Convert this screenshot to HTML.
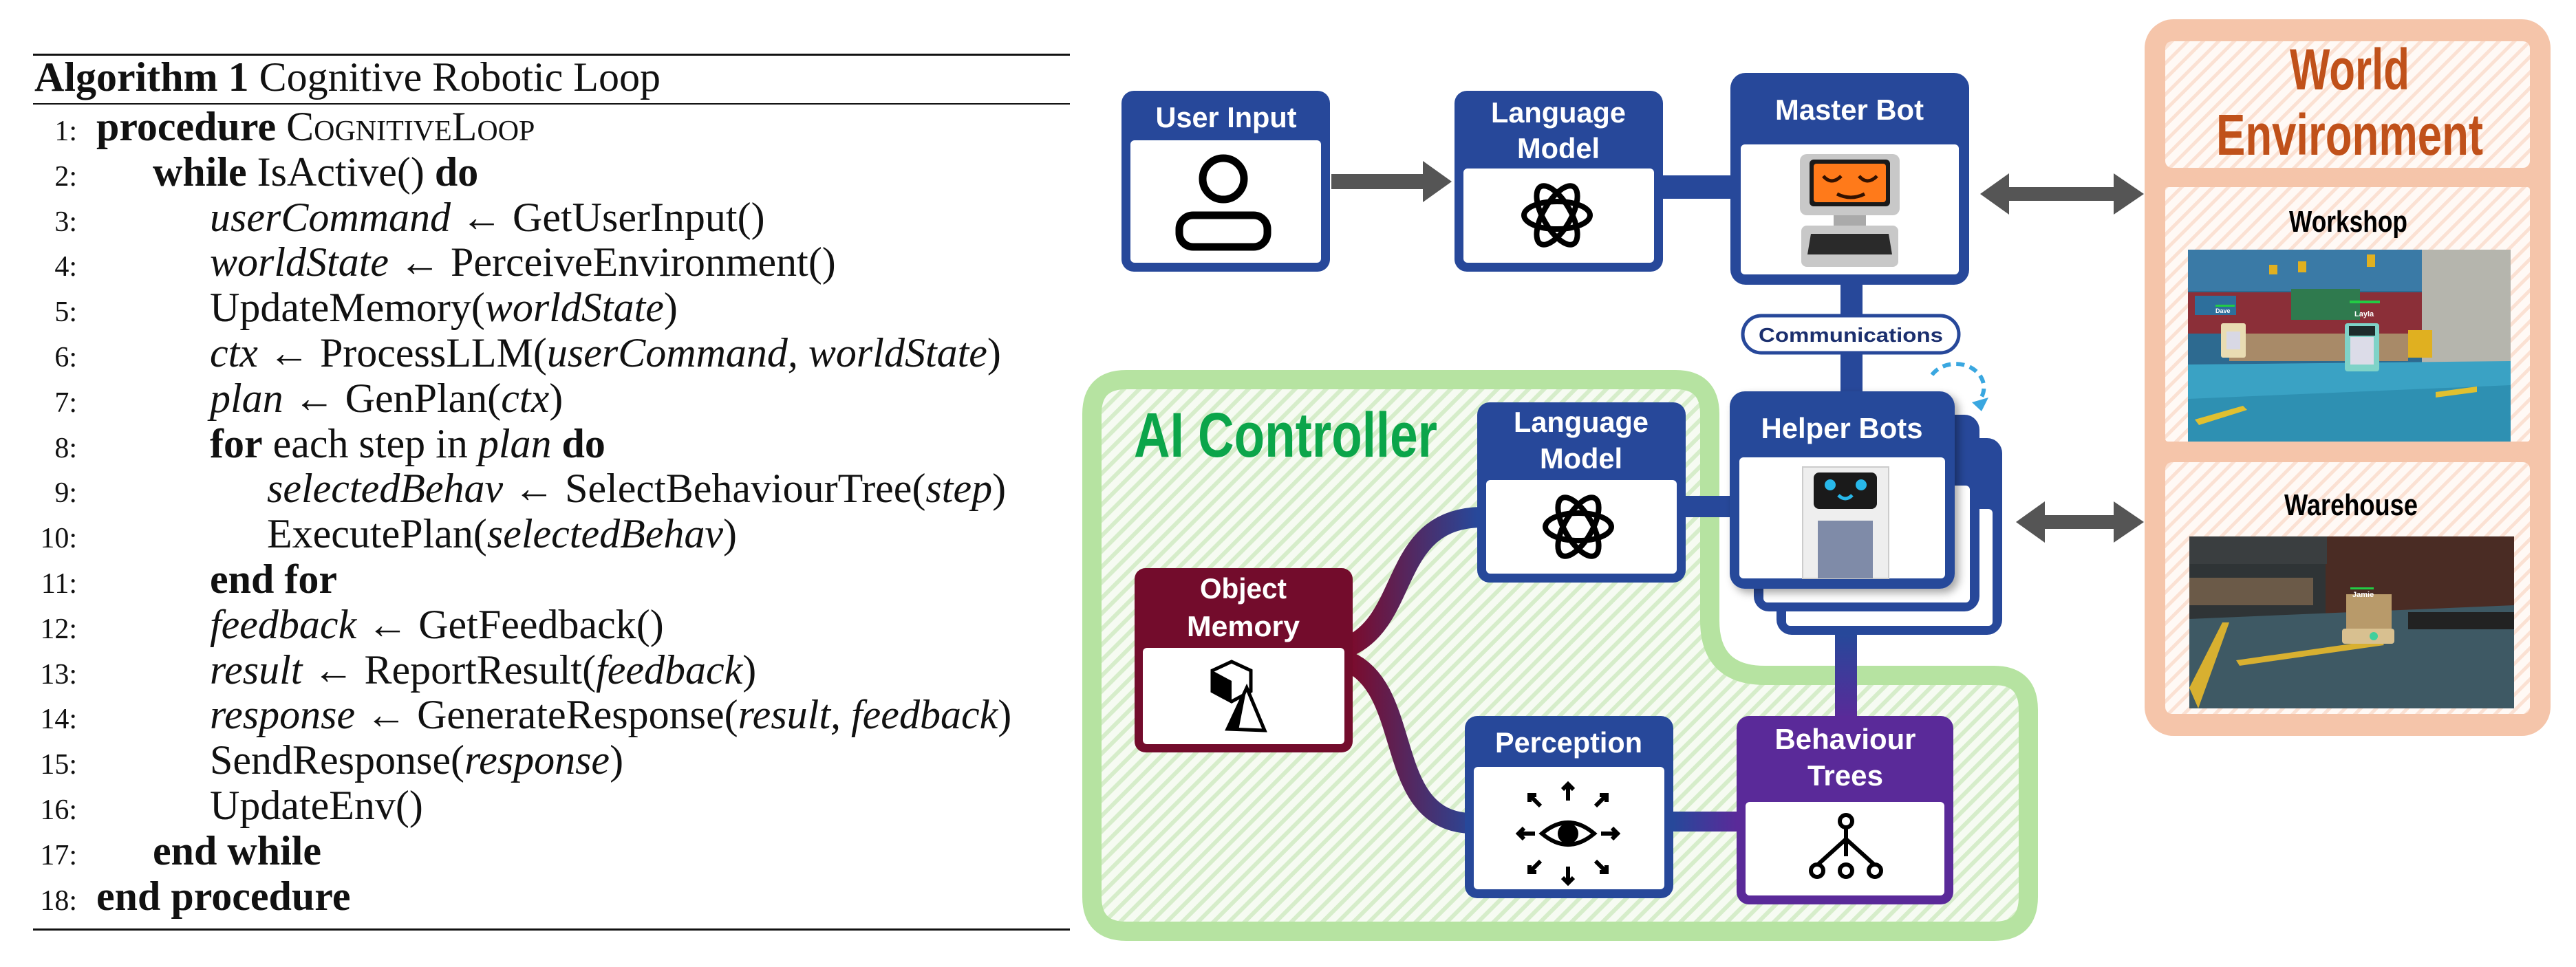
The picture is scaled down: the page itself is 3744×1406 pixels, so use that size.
<!DOCTYPE html>
<html><head><meta charset="utf-8"><style>
html,body{margin:0;padding:0;background:#fff;width:3744px;height:1406px;overflow:hidden}
svg{display:block}
.alg{font-family:"Liberation Serif",serif;font-size:60px;fill:#111}
.num{font-family:"Liberation Serif",serif;font-size:42px;fill:#111}
.b{font-weight:bold}
.i{font-style:italic}
.sc{font-variant:small-caps}
.hd{font-family:"Liberation Sans",sans-serif;font-weight:bold;fill:#fff;font-size:42px}
</style></head><body>
<svg width="3744" height="1406" viewBox="0 0 3744 1406" xmlns="http://www.w3.org/2000/svg">
<defs>
<pattern id="hg" width="16" height="16" patternUnits="userSpaceOnUse" patternTransform="rotate(45)">
<rect width="16" height="16" fill="#f6fbf2"/><rect width="6" height="16" fill="#d6edca"/></pattern>
<pattern id="ho" width="16" height="16" patternUnits="userSpaceOnUse" patternTransform="rotate(45)">
<rect width="16" height="16" fill="#fff9f5"/><rect width="5" height="16" fill="#fbe1d3"/></pattern>
<linearGradient id="g1" gradientUnits="userSpaceOnUse" x1="1966" y1="0" x2="2147" y2="0"><stop offset="0" stop-color="#7a0c2e"/><stop offset="1" stop-color="#27489a"/></linearGradient>
<linearGradient id="g2" gradientUnits="userSpaceOnUse" x1="0" y1="923" x2="0" y2="1045"><stop offset="0" stop-color="#27489a"/><stop offset="1" stop-color="#5a2a99"/></linearGradient>
<linearGradient id="g3" gradientUnits="userSpaceOnUse" x1="2432" y1="0" x2="2524" y2="0"><stop offset="0" stop-color="#27489a"/><stop offset="1" stop-color="#5a2a99"/></linearGradient>
<filter id="sh" x="-10%" y="-10%" width="130%" height="130%"><feDropShadow dx="6" dy="6" stdDeviation="6" flood-opacity="0.35"/></filter>
</defs>

<!-- Algorithm -->
<rect x="48" y="78" width="1507" height="3" fill="#111"/>
<rect x="48" y="150" width="1507" height="2" fill="#111"/>
<rect x="48" y="1350" width="1507" height="3" fill="#111"/>
<text class="alg" x="50" y="132"><tspan class="b">Algorithm 1</tspan> Cognitive Robotic Loop</text>
<g class="num" text-anchor="end">
<text x="112" y="204">1:</text><text x="112" y="270">2:</text><text x="112" y="336">3:</text><text x="112" y="401">4:</text><text x="112" y="467">5:</text><text x="112" y="533">6:</text><text x="112" y="599">7:</text><text x="112" y="665">8:</text><text x="112" y="730">9:</text><text x="112" y="796">10:</text><text x="112" y="862">11:</text><text x="112" y="928">12:</text><text x="112" y="994">13:</text><text x="112" y="1059">14:</text><text x="112" y="1125">15:</text><text x="112" y="1191">16:</text><text x="112" y="1257">17:</text><text x="112" y="1323">18:</text>
</g>
<g class="alg">
<text x="140" y="204"><tspan class="b">procedure</tspan> <tspan class="sc">CognitiveLoop</tspan></text>
<text x="222" y="270"><tspan class="b">while</tspan> IsActive() <tspan class="b">do</tspan></text>
<text x="305" y="336"><tspan class="i">userCommand</tspan> ← GetUserInput()</text>
<text x="305" y="401"><tspan class="i">worldState</tspan> ← PerceiveEnvironment()</text>
<text x="305" y="467">UpdateMemory(<tspan class="i">worldState</tspan>)</text>
<text x="305" y="533"><tspan class="i">ctx</tspan> ← ProcessLLM(<tspan class="i">userCommand, worldState</tspan>)</text>
<text x="305" y="599"><tspan class="i">plan</tspan> ← GenPlan(<tspan class="i">ctx</tspan>)</text>
<text x="305" y="665"><tspan class="b">for</tspan> each step in <tspan class="i">plan</tspan> <tspan class="b">do</tspan></text>
<text x="388" y="730"><tspan class="i">selectedBehav</tspan> ← SelectBehaviourTree(<tspan class="i">step</tspan>)</text>
<text x="388" y="796">ExecutePlan(<tspan class="i">selectedBehav</tspan>)</text>
<text x="305" y="862" class="b">end for</text>
<text x="305" y="928"><tspan class="i">feedback</tspan> ← GetFeedback()</text>
<text x="305" y="994"><tspan class="i">result</tspan> ← ReportResult(<tspan class="i">feedback</tspan>)</text>
<text x="305" y="1059"><tspan class="i">response</tspan> ← GenerateResponse(<tspan class="i">result, feedback</tspan>)</text>
<text x="305" y="1125">SendResponse(<tspan class="i">response</tspan>)</text>
<text x="305" y="1191">UpdateEnv()</text>
<text x="222" y="1257" class="b">end while</text>
<text x="140" y="1323" class="b">end procedure</text>
</g>

<!-- AI Controller region -->
<path d="M1637,552 L2435,552 Q2485,552 2485,602 L2485,902 Q2485,982 2565,982 L2898,982 Q2948,982 2948,1032 L2948,1304 Q2948,1354 2898,1354 L1637,1354 Q1587,1354 1587,1304 L1587,602 Q1587,552 1637,552 Z" fill="url(#hg)" stroke="#b6e3a1" stroke-width="28"/>
<text x="1648" y="664" font-family="Liberation Sans,sans-serif" font-weight="bold" font-size="92" fill="#0ba54a" textLength="441" lengthAdjust="spacingAndGlyphs">AI Controller</text>

<!-- World Environment -->
<rect x="3117" y="28" width="590" height="1042" rx="42" fill="#f5c5aa"/>
<rect x="3147" y="60" width="530" height="184" rx="10" fill="url(#ho)"/>
<rect x="3147" y="272" width="530" height="370" rx="4" fill="url(#ho)"/>
<rect x="3147" y="672" width="530" height="366" rx="10" fill="url(#ho)"/>
<g font-family="Liberation Sans,sans-serif" font-weight="bold" text-anchor="middle">
<text x="3415" y="130" font-size="84" fill="#c0511a" textLength="174" lengthAdjust="spacingAndGlyphs">World</text>
<text x="3415" y="225" font-size="84" fill="#c0511a" textLength="388" lengthAdjust="spacingAndGlyphs">Environment</text>
<text x="3413" y="337" font-size="44" fill="#000" textLength="172" lengthAdjust="spacingAndGlyphs">Workshop</text>
<text x="3417" y="749" font-size="44" fill="#000" textLength="194" lengthAdjust="spacingAndGlyphs">Warehouse</text>
</g>
<!-- workshop image -->
<g>
<rect x="3180" y="363" width="469" height="279" fill="#2d6a90"/>
<rect x="3180" y="363" width="469" height="60" fill="#3a7aa6"/>
<rect x="3520" y="363" width="129" height="200" fill="#b5b5ad"/>
<rect x="3180" y="425" width="340" height="60" fill="#8b2f38"/>
<rect x="3190" y="430" width="60" height="28" fill="#2d6f9c"/>
<rect x="3330" y="420" width="100" height="45" fill="#2f7a4e"/>
<rect x="3240" y="485" width="260" height="40" fill="#a88a68"/>
<rect x="3440" y="370" width="12" height="18" fill="#e0b020"/><rect x="3340" y="380" width="12" height="16" fill="#e0b020"/><rect x="3298" y="385" width="12" height="14" fill="#e0b020"/>
<polygon points="3180,530 3649,525 3649,642 3180,642" fill="#3aa2c4"/>
<polygon points="3180,580 3649,560 3649,642 3180,642" fill="#2e90b2"/>
<polygon points="3190,610 3260,590 3266,596 3196,618" fill="#e0c030"/>
<polygon points="3540,570 3600,562 3600,570 3540,578" fill="#e0c030"/>
<rect x="3500" y="480" width="35" height="40" fill="#e0b020"/>
<rect x="3228" y="470" width="36" height="50" rx="3" fill="#e9dcb2"/>
<rect x="3236" y="482" width="20" height="26" fill="#d8d8e4"/>
<rect x="3408" y="470" width="50" height="70" rx="4" fill="#7fd3c8"/>
<rect x="3416" y="490" width="34" height="40" fill="#dcdce8"/>
<rect x="3414" y="474" width="38" height="14" fill="#1e2b2b"/>
<rect x="3415" y="437" width="44" height="4" fill="#22cc44"/>
<text x="3422" y="460" font-family="Liberation Sans,sans-serif" font-size="11" font-weight="bold" fill="#fff">Layla</text>
<rect x="3220" y="443" width="28" height="3" fill="#22cc44"/>
<text x="3220" y="455" font-family="Liberation Sans,sans-serif" font-size="9" font-weight="bold" fill="#fff">Dave</text>
</g>
<!-- warehouse image -->
<g>
<rect x="3182" y="780" width="472" height="250" fill="#2f3436"/>
<rect x="3380" y="780" width="274" height="120" fill="#4a2c24"/>
<rect x="3182" y="780" width="200" height="40" fill="#3a3e40"/>
<rect x="3182" y="840" width="180" height="40" fill="#6b5a48"/>
<polygon points="3182,900 3654,880 3654,1030 3182,1030" fill="#3e5964"/>
<polygon points="3182,1000 3230,905 3240,905 3195,1030" fill="#d8b030"/>
<polygon points="3250,960 3460,930 3465,938 3255,968" fill="#d8b030"/>
<rect x="3500" y="890" width="154" height="25" fill="#222"/>
<rect x="3410" y="864" width="66" height="52" fill="#b89a6a"/>
<rect x="3404" y="914" width="76" height="22" rx="4" fill="#d8c090"/>
<circle cx="3450" cy="925" r="6" fill="#3fcf9c"/>
<rect x="3416" y="854" width="34" height="3" fill="#22cc44"/>
<text x="3419" y="868" font-family="Liberation Sans,sans-serif" font-size="11" font-weight="bold" fill="#fff">Jamie</text>
</g>

<!-- Arrows -->
<g fill="#555">
<rect x="1935" y="253" width="140" height="22"/><polygon points="2068,234 2110,264 2068,294"/>
<rect x="2915" y="272" width="162" height="20"/><polygon points="2920,252 2878,282 2920,312"/><polygon points="3072,252 3116,282 3072,312"/>
<rect x="2965" y="749" width="112" height="20"/><polygon points="2972,729 2930,759 2972,789"/><polygon points="3072,729 3116,759 3072,789"/>
</g>

<!-- connectors -->
<rect x="2410" y="255" width="110" height="34" fill="#27489a"/>
<rect x="2675" y="410" width="32" height="165" fill="#27489a"/>
<rect x="2445" y="721" width="75" height="31" fill="#27489a"/>
<rect x="2667" y="900" width="32" height="145" fill="url(#g2)"/>
<rect x="2428" y="1180" width="100" height="29" fill="url(#g3)"/>
<path d="M1960,940 C2050,900 2020,755 2152,752" fill="none" stroke="url(#g1)" stroke-width="30"/>
<path d="M1960,962 C2055,1005 2010,1190 2135,1197" fill="none" stroke="url(#g1)" stroke-width="30"/>

<!-- Communications -->
<rect x="2533" y="459" width="314" height="54" rx="27" fill="#fff" stroke="#27489a" stroke-width="5"/>
<text x="2690" y="497" text-anchor="middle" font-family="Liberation Sans,sans-serif" font-weight="bold" font-size="29" fill="#1b2f6e" textLength="268" lengthAdjust="spacingAndGlyphs">Communications</text>
<path d="M2808,545 A38,32 0 1 1 2877,582" fill="none" stroke="#3aa7e0" stroke-width="6" stroke-dasharray="12,8"/>
<polygon points="2866,585 2890,578 2880,598" fill="#3aa7e0"/>

<!-- Box: User Input -->
<rect x="1630" y="132" width="303" height="263" rx="18" fill="#27489a"/>
<rect x="1643" y="204" width="277" height="178" rx="6" fill="#fff"/>
<text class="hd" x="1782" y="185" text-anchor="middle" textLength="205" lengthAdjust="spacingAndGlyphs">User Input</text>
<circle cx="1778" cy="260" r="30" fill="none" stroke="#000" stroke-width="11"/>
<rect x="1714" y="313" width="128" height="46" rx="20" fill="none" stroke="#000" stroke-width="11"/>

<!-- Box: LM top -->
<rect x="2114" y="132" width="303" height="263" rx="18" fill="#27489a"/>
<rect x="2127" y="245" width="277" height="137" rx="6" fill="#fff"/>
<text class="hd" x="2265" y="178" text-anchor="middle" textLength="196" lengthAdjust="spacingAndGlyphs">Language</text>
<text class="hd" x="2265" y="230" text-anchor="middle" textLength="120" lengthAdjust="spacingAndGlyphs">Model</text>
<g transform="translate(2263,313)" fill="none" stroke="#000" stroke-width="8">
<ellipse rx="48" ry="20"/><ellipse rx="48" ry="20" transform="rotate(60)"/><ellipse rx="48" ry="20" transform="rotate(120)"/></g>

<!-- Box: Master Bot -->
<rect x="2515" y="106" width="347" height="308" rx="22" fill="#27489a"/>
<rect x="2530" y="210" width="317" height="189" rx="6" fill="#fff"/>
<text class="hd" x="2688" y="174" text-anchor="middle" textLength="216" lengthAdjust="spacingAndGlyphs">Master Bot</text>
<rect x="2616" y="224" width="145" height="89" rx="10" fill="#c8c8c8"/>
<rect x="2630" y="232" width="117" height="68" rx="6" fill="#1a1a1a"/>
<rect x="2636" y="238" width="105" height="56" rx="4" fill="#ff7a1a"/>
<path d="M2650,256 q12,14 26,0 M2702,256 q12,14 26,0 M2670,282 q20,10 40,0" stroke="#331100" stroke-width="5" fill="none"/>
<rect x="2665" y="313" width="47" height="15" fill="#aaa"/>
<rect x="2618" y="328" width="141" height="60" rx="8" fill="#c8c8c8"/>
<polygon points="2632,340 2745,340 2750,370 2627,370" fill="#2a2a2a"/>

<!-- Helper Bots stack -->
<rect x="2582" y="637" width="328" height="286" rx="22" fill="#27489a"/>
<rect x="2596" y="740" width="300" height="170" rx="6" fill="#fff"/>
<rect x="2549" y="603" width="328" height="286" rx="22" fill="#27489a"/>
<rect x="2563" y="706" width="300" height="170" rx="6" fill="#fff"/>
<g filter="url(#sh)">
<rect x="2514" y="569" width="327" height="287" rx="22" fill="#27489a"/>
<rect x="2528" y="665" width="299" height="176" rx="6" fill="#fff"/>
</g>
<text class="hd" x="2677" y="637" text-anchor="middle" textLength="235" lengthAdjust="spacingAndGlyphs">Helper Bots</text>
<rect x="2620" y="679" width="125" height="162" fill="#eeeeee" stroke="#cccccc" stroke-width="2"/>
<rect x="2636" y="687" width="92" height="53" rx="8" fill="#1a1a1a"/>
<circle cx="2660" cy="705" r="8" fill="#28b8ea"/><circle cx="2705" cy="705" r="8" fill="#28b8ea"/>
<path d="M2672,720 q10,10 20,0" stroke="#28b8ea" stroke-width="5" fill="none"/>
<rect x="2642" y="757" width="80" height="84" fill="#7f8ba8"/>

<!-- LM inner -->
<rect x="2147" y="585" width="303" height="262" rx="18" fill="#27489a"/>
<rect x="2160" y="698" width="277" height="136" rx="6" fill="#fff"/>
<text class="hd" x="2298" y="628" text-anchor="middle" textLength="196" lengthAdjust="spacingAndGlyphs">Language</text>
<text class="hd" x="2298" y="681" text-anchor="middle" textLength="120" lengthAdjust="spacingAndGlyphs">Model</text>
<g transform="translate(2294,766)" fill="none" stroke="#000" stroke-width="8">
<ellipse rx="48" ry="20"/><ellipse rx="48" ry="20" transform="rotate(60)"/><ellipse rx="48" ry="20" transform="rotate(120)"/></g>

<!-- Object Memory -->
<rect x="1649" y="826" width="317" height="268" rx="16" fill="#730c2c"/>
<rect x="1661" y="942" width="293" height="140" rx="6" fill="#fff"/>
<text class="hd" x="1807" y="870" text-anchor="middle" textLength="126" lengthAdjust="spacingAndGlyphs">Object</text>
<text class="hd" x="1807" y="925" text-anchor="middle" textLength="164" lengthAdjust="spacingAndGlyphs">Memory</text>
<polygon points="1762,975 1790,962 1818,975 1818,1005 1790,1020 1762,1005" fill="#fff" stroke="#000" stroke-width="5"/>
<polygon points="1762,975 1790,990 1790,1020 1762,1005" fill="#000"/>
<polygon points="1812,1000 1784,1060 1838,1062" fill="#fff" stroke="#000" stroke-width="5"/>
<polygon points="1812,1000 1784,1060 1800,1062" fill="#000"/>

<!-- Perception -->
<rect x="2129" y="1041" width="303" height="265" rx="18" fill="#27489a"/>
<rect x="2142" y="1115" width="277" height="178" rx="6" fill="#fff"/>
<text class="hd" x="2280" y="1094" text-anchor="middle" textLength="214" lengthAdjust="spacingAndGlyphs">Perception</text>
<g transform="translate(2279,1212)" stroke="#000" stroke-width="6" fill="none">
<path d="M-38,0 Q0,-32 38,0 Q0,32 -38,0 Z"/><circle r="12" fill="#000"/>
<path d="M0,-48 V-72 M-8,-64 L0,-72 L8,-64"/><path d="M0,48 V72 M-8,64 L0,72 L8,64"/>
<path d="M-48,0 H-72 M-64,-8 L-72,0 L-64,8"/><path d="M48,0 H72 M64,-8 L72,0 L64,8"/>
<path d="M-40,-40 L-56,-56 M-56,-46 V-56 H-46"/><path d="M40,-40 L56,-56 M46,-56 H56 V-46"/>
<path d="M-40,40 L-56,56 M-56,46 V56 H-46"/><path d="M40,40 L56,56 M46,56 H56 V46"/>
</g>

<!-- Behaviour Trees -->
<rect x="2524" y="1041" width="315" height="274" rx="18" fill="#5a2a99"/>
<rect x="2537" y="1166" width="289" height="136" rx="6" fill="#fff"/>
<text class="hd" x="2682" y="1089" text-anchor="middle" textLength="205" lengthAdjust="spacingAndGlyphs">Behaviour</text>
<text class="hd" x="2682" y="1142" text-anchor="middle" textLength="110" lengthAdjust="spacingAndGlyphs">Trees</text>
<g transform="translate(2683,1230)" stroke="#000" stroke-width="6" fill="none">
<circle cx="0" cy="-36" r="9"/><path d="M0,-27 V15 M0,-10 L-42,28 M0,-10 L42,28"/>
<circle cx="-42" cy="36" r="9"/><circle cx="0" cy="36" r="9"/><circle cx="42" cy="36" r="9"/>
</g>
</svg>
</body></html>
